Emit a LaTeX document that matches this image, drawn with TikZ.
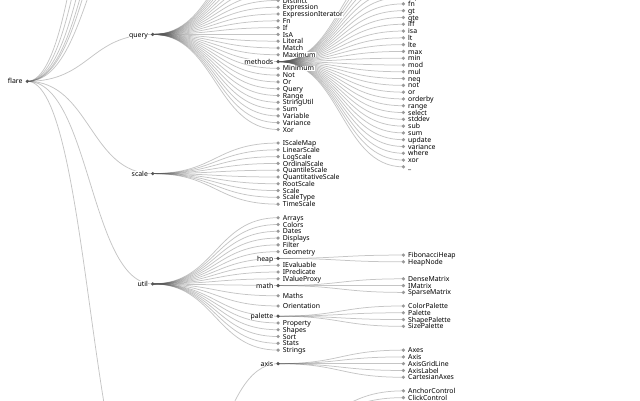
\documentclass[tikz,border=0pt]{standalone}
\usepackage{fontspec}
\setmainfont{Noto Sans}
\usetikzlibrary{calc}
\definecolor{linkc}{HTML}{555555}
\definecolor{leafc}{HTML}{999999}
\tikzset{
  link/.style={draw=linkc, draw opacity=0.34, line width=0.75pt},
  dotI/.style={circle, fill=linkc, inner sep=0pt, minimum size=3.6pt},
  dotL/.style={circle, fill=leafc, inner sep=0pt, minimum size=3.6pt},
  lbl/.style={font=\fontsize{6.9}{7}\selectfont, text=black, fill=white, inner xsep=0.5pt, inner ysep=0pt},
}
\newcommand\lnk[2]{\path[link] let \p1=(#1), \p2=(#2) in (\p1) .. controls ({0.5*(\x1+\x2)},\y1) and ({0.5*(\x1+\x2)},\y2) .. (\p2);}
\newcommand\leafnode[2]{%
  \node[dotL] (#1-d) at (#1) {};
  \node[lbl, anchor=base west] (#1-t) at ([shift={(4.1pt,-2.6pt)}]#1) {#2};}
\newcommand\innernode[2]{%
  \node[dotI] (#1-d) at (#1) {};
  \node[lbl, anchor=base east] (#1-t) at ([shift={(-4.1pt,-2.6pt)}]#1) {#2};}
\begin{document}
\begin{tikzpicture}[x=1pt,y=-1pt]
\useasboundingbox (0,0) rectangle (640,400);
\clip (0,0) rectangle (640,400);
% ---------- positions ----------
\coordinate (flare) at (27.3,81.3);
\coordinate (analytics) at (152.7,-371.3);
\coordinate (animate) at (152.7,-274.5);
\coordinate (data) at (152.7,-203.25);
\coordinate (display) at (152.7,-159.1);
\coordinate (flex) at (152.7,-135.35);
\coordinate (physics) at (152.7,-98.0);
\coordinate (query) at (152.7,34.4);
\coordinate (scale) at (152.7,173.6);
\coordinate (util) at (152.7,283.9);
\coordinate (vis) at (152.7,533.9);
% query children
\foreach \nm/\k in {AggregateExpression/0,And/1,Arithmetic/2,Average/3,BinaryExpression/4,Comparison/5,CompositeExpression/6,Count/7,DateUtil/8,Distinct/9,Expression/10,ExpressionIterator/11,Fn/12,If/13,IsA/14,Literal/15,Match/16,Maximum/17,Minimum/19,Not/20,Or/21,Query/22,Range/23,StringUtil/24,Sum/25,Variable/26,Variance/27,Xor/28}
  {\coordinate (q-\nm) at (278.1,{34.4+(\k-14)*6.79});}
\coordinate (methods) at (278.1,61.6);
% methods children
\foreach \nm/\k in {add/0,and/1,average/2,count/3,distinct/4,div/5,eq/6,fn/7,gt/8,gte/9,iff/10,isa/11,lt/12,lte/13,max/14,min/15,mod/16,mul/17,neq/18,not/19,or/20,orderby/21,range/22,select/23,stddev/24,sub/25,sum/26,update/27,variance/28,where/29,xor/30,under/31}
  {\coordinate (m-\nm) at (403.4,{61.6+(\k-15.5)*6.79});}
% scale children
\foreach \nm/\k in {IScaleMap/0,LinearScale/1,LogScale/2,OrdinalScale/3,QuantileScale/4,QuantitativeScale/5,RootScale/6,Scale/7,ScaleType/8,TimeScale/9}
  {\coordinate (s-\nm) at (278.1,{173.6+(\k-4.5)*6.79});}
% util children
\foreach \nm/\k in {Arrays/0,Colors/1,Dates/2,Displays/3,Filter/4,Geometry/5,IEvaluable/7,IPredicate/8,IValueProxy/9,Maths/11.5,Orientation/13,Property/15.5,Shapes/16.5,Sort/17.5,Stats/18.5,Strings/19.5}
  {\coordinate (u-\nm) at (278.1,{217.7+\k*6.79});}
\coordinate (heap) at (278.1,{217.7+6*6.79});
\coordinate (math) at (278.1,{217.7+10*6.79});
\coordinate (palette) at (278.1,{217.7+14.5*6.79});
\foreach \nm/\k in {FibonacciHeap/5.5,HeapNode/6.5}
  {\coordinate (h-\nm) at (403.4,{217.7+\k*6.79});}
\foreach \nm/\k in {DenseMatrix/9,IMatrix/10,SparseMatrix/11}
  {\coordinate (mt-\nm) at (403.4,{217.7+\k*6.79});}
\foreach \nm/\k in {ColorPalette/13,Palette/14,ShapePalette/15,SizePalette/16}
  {\coordinate (p-\nm) at (403.4,{217.7+\k*6.79});}
% vis part
\coordinate (axis) at (278.1,{217.7+21.5*6.79});
\coordinate (controls) at (278.1,{217.7+30.5*6.79});
\foreach \nm/\k in {Axes/19.5,Axis/20.5,AxisGridLine/21.5,AxisLabel/22.5,CartesianAxes/23.5}
  {\coordinate (a-\nm) at (403.4,{217.7+\k*6.79});}
\foreach \nm/\k in {AnchorControl/25.5,ClickControl/26.5}
  {\coordinate (c-\nm) at (403.4,{217.7+\k*6.79});}
% ---------- links ----------
\foreach \nm in {analytics,animate,data,display,flex,physics,query,scale,util,vis}
  {\lnk{flare}{\nm}}
\foreach \nm in {AggregateExpression,And,Arithmetic,Average,BinaryExpression,Comparison,CompositeExpression,Count,DateUtil,Distinct,Expression,ExpressionIterator,Fn,If,IsA,Literal,Match,Maximum,Minimum,Not,Or,Query,Range,StringUtil,Sum,Variable,Variance,Xor}
  {\lnk{query}{q-\nm}}
\lnk{query}{methods}
\foreach \nm in {add,and,average,count,distinct,div,eq,fn,gt,gte,iff,isa,lt,lte,max,min,mod,mul,neq,not,or,orderby,range,select,stddev,sub,sum,update,variance,where,xor,under}
  {\lnk{methods}{m-\nm}}
\foreach \nm in {IScaleMap,LinearScale,LogScale,OrdinalScale,QuantileScale,QuantitativeScale,RootScale,Scale,ScaleType,TimeScale}
  {\lnk{scale}{s-\nm}}
\foreach \nm in {Arrays,Colors,Dates,Displays,Filter,Geometry,IEvaluable,IPredicate,IValueProxy,Maths,Orientation,Property,Shapes,Sort,Stats,Strings}
  {\lnk{util}{u-\nm}}
\lnk{util}{heap}
\lnk{util}{math}
\lnk{util}{palette}
\foreach \nm in {FibonacciHeap,HeapNode}{\lnk{heap}{h-\nm}}
\foreach \nm in {DenseMatrix,IMatrix,SparseMatrix}{\lnk{math}{mt-\nm}}
\foreach \nm in {ColorPalette,Palette,ShapePalette,SizePalette}{\lnk{palette}{p-\nm}}
\lnk{vis}{axis}
\foreach \nm in {Axes,Axis,AxisGridLine,AxisLabel,CartesianAxes}{\lnk{axis}{a-\nm}}
\foreach \nm in {AnchorControl,ClickControl}{\lnk{controls}{c-\nm}}
% ---------- nodes ----------
\innernode{flare}{flare}
\innernode{query}{query}
\innernode{scale}{scale}
\innernode{util}{util}
\innernode{methods}{methods}
\innernode{heap}{heap}
\innernode{math}{math}
\innernode{palette}{palette}
\innernode{axis}{axis}
\foreach \nm in {Distinct,Expression,ExpressionIterator,Fn,If,IsA,Literal,Match,Maximum,Minimum,Not,Or,Query,Range,StringUtil,Sum,Variable,Variance,Xor}
  {\leafnode{q-\nm}{\nm}}
\foreach \nm in {eq,fn,gt,gte,iff,isa,lt,lte,max,min,mod,mul,neq,not,or,orderby,range,select,stddev,sub,sum,update,variance,where,xor}
  {\leafnode{m-\nm}{\nm}}
\leafnode{m-under}{\_}
\foreach \nm in {IScaleMap,LinearScale,LogScale,OrdinalScale,QuantileScale,QuantitativeScale,RootScale,Scale,ScaleType,TimeScale}
  {\leafnode{s-\nm}{\nm}}
\foreach \nm in {Arrays,Colors,Dates,Displays,Filter,Geometry,IEvaluable,IPredicate,IValueProxy,Maths,Orientation,Property,Shapes,Sort,Stats,Strings}
  {\leafnode{u-\nm}{\nm}}
\foreach \nm in {FibonacciHeap,HeapNode}{\leafnode{h-\nm}{\nm}}
\foreach \nm in {DenseMatrix,IMatrix,SparseMatrix}{\leafnode{mt-\nm}{\nm}}
\foreach \nm in {ColorPalette,Palette,ShapePalette,SizePalette}{\leafnode{p-\nm}{\nm}}
\foreach \nm in {Axes,Axis,AxisGridLine,AxisLabel,CartesianAxes}{\leafnode{a-\nm}{\nm}}
\foreach \nm in {AnchorControl,ClickControl}{\leafnode{c-\nm}{\nm}}
\end{tikzpicture}
\end{document}
